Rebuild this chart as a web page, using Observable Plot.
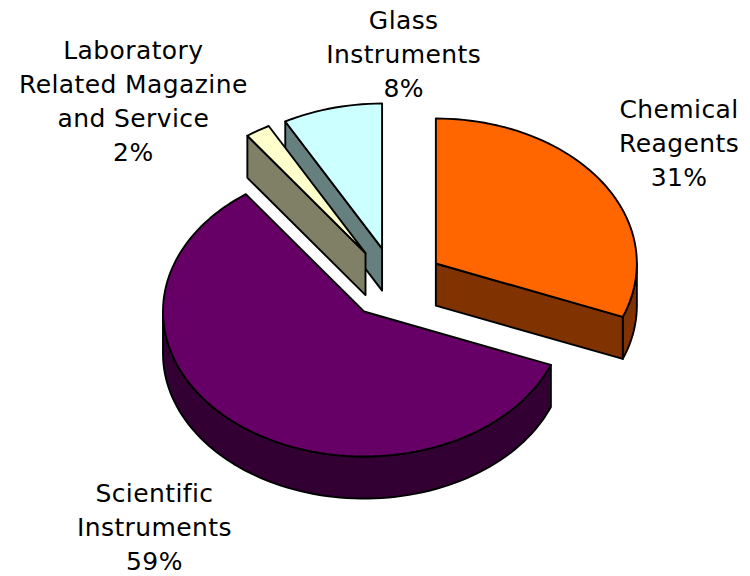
<!DOCTYPE html>
<html>
<head>
<meta charset="utf-8">
<style>html,body{margin:0;padding:0;background:#fff}svg{display:block}svg text{letter-spacing:0.4px}</style>
<script src="https://cdn.jsdelivr.net/npm/d3@7"></script>
<script src="https://cdn.jsdelivr.net/npm/@observablehq/plot@0.6"></script>
</head>
<body>
<script>
// Data
const categories = ["Chemical\nReagents", "Scientific\nInstruments", "Laboratory\nRelated Magazine\nand Service", "Glass\nInstruments"];
const shares = [31, 59, 2, 8];
const topColors = ["#FF6600", "#660066", "#FFFFCC", "#CCFFFF"];
const sideColors = ["#803300", "#330033", "#808066", "#668080"];

// Layout, in pie-radius units
const explodeX = [0.3575, 0, 0.0075, 0.09];
const explodeY = [0.331, 0, 0.403, 0.434];
const labelX = [1.5675, -1.0425, -1.1475, 0.1975];
const labelY = [1.172, -1.47, 1.468, 1.786];
const depth = 0.29;
const drawOrder = [1, 3, 2, 0];

const rad = d => d * Math.PI / 180;
let cum = 0;
const spans = shares.map(s => { const a = cum * 3.6; cum += s; return [a, cum * 3.6]; });

function arc(i, a0, a1) {
  const n = Math.max(1, Math.ceil(Math.abs(a1 - a0) / 2));
  return d3.range(n + 1).map(k => {
    const a = rad(a0 + (a1 - a0) * k / n);
    return [explodeX[i] + Math.sin(a), explodeY[i] + Math.cos(a)];
  });
}
const apex = i => [explodeX[i], explodeY[i]];
const down = p => [p[0], p[1] - depth];

const rows = [];
function poly(id, color, pts) { pts.forEach(p => rows.push({id, color, x: p[0], y: p[1]})); }
function rim(i, a0, a1) {
  const t = arc(i, a0, a1);
  poly(`rim${i}`, sideColors[i], [...t, ...t.slice().reverse().map(down)]);
}
function cut(i, a) {
  const e = arc(i, a, a)[0], c = apex(i);
  poly(`cut${i}-${a}`, sideColors[i], [c, e, down(e), down(c)]);
}
for (const i of drawOrder) {
  const [a0, a1] = spans[i];
  if (i === 0) { rim(0, 90, a1); cut(0, a1); }
  if (i === 1) { rim(1, a0, 270); }
  if (i === 2 || i === 3) { cut(i, a0); }
  poly(`top${i}`, topColors[i], [apex(i), ...arc(i, a0, a1)]);
}

const labels = categories.map((c, i) => ({text: `${c}\n${shares[i]}%`, x: labelX[i], y: labelY[i]}));

const rx = 201, ry = 145, cx = 363.5, cy = 311;
const chart = Plot.plot({
  width: 750, height: 576, margin: 0,
  style: {background: "#fff"},
  x: {domain: [-cx / rx, (750 - cx) / rx], range: [0, 750], axis: null},
  y: {domain: [cy / ry, (cy - 576) / ry], range: [0, 576], axis: null},
  marks: [
    Plot.line(rows, {x: "x", y: "y", z: "id", fill: "color", stroke: "#000", strokeWidth: 1.9, strokeLinejoin: "round", curve: "linear-closed"}),
    Plot.text(labels, {x: "x", y: "y", text: "text", fill: "#000", fontFamily: "DejaVu Sans", fontSize: 25, lineHeight: 1.36, textAnchor: "middle"})
  ]
});
document.body.appendChild(chart);
</script>
</body>
</html>
